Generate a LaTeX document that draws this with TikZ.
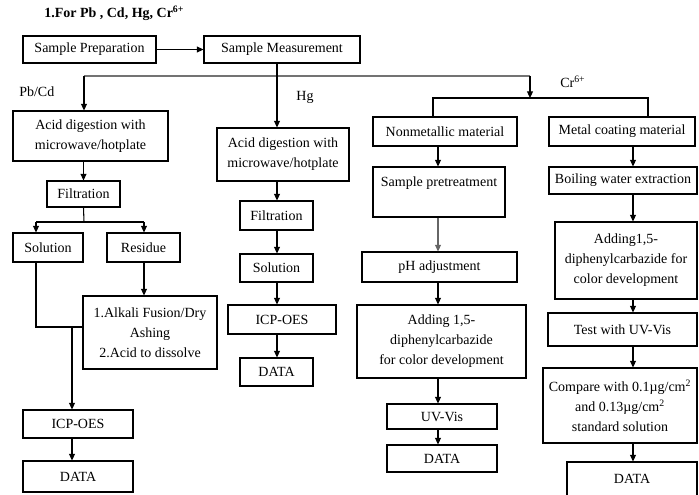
\documentclass[tikz,border=0pt]{standalone}
\usepackage{fontspec}
\setmainfont{Liberation Serif}
\usetikzlibrary{arrows.meta}
\newcommand\mybox[6]{\node[box, minimum width={(#4-#2)*0.75pt}, minimum height={(#5-#3)*0.75pt}] (#1) at ({(#2+#4)/2},{(#3+#5)/2}) {#6};}
\begin{document}
\begin{tikzpicture}[x=0.75pt,y=-0.75pt,
  box/.style={draw, line width=0.8pt, align=center, inner sep=0pt, font=\fontsize{10.5}{15}\selectfont},
  arr/.style={-{Triangle[length=5pt,width=4.5pt]}, line width=0.8pt},
  ln/.style={line width=0.8pt},
  lbl/.style={font=\fontsize{10.5}{15}\selectfont, inner sep=0pt}]
\useasboundingbox (0,0) rectangle (699,495);
% title and labels
\node[lbl, anchor=west, font=\bfseries\fontsize{10.5}{15}\selectfont] (title) at (44,13) {1.For Pb , Cd, Hg, Cr\textsuperscript{6+}};
\node[lbl, anchor=west] (lpb) at (19,92) {Pb/Cd};
\node[lbl] (lhg) at (305,97) {Hg};
\node[lbl, anchor=west] (lcr) at (560,82) {Cr\textsuperscript{6+}};
% boxes
\mybox{sp}{23}{36}{156}{63}{Sample Preparation}
\mybox{sm}{204}{36}{360}{63}{Sample Measurement}
\mybox{pba}{13}{111}{168}{161}{Acid digestion with\\microwave/hotplate}
\mybox{pbf}{47}{181}{120}{207}{Filtration}
\mybox{pbs}{13}{233}{83}{262}{Solution}
\mybox{pbr}{107}{233}{180}{262}{Residue}
\mybox{alk}{83}{296}{217}{369}{1.Alkali Fusion/Dry\\Ashing\\2.Acid to dissolve}
\mybox{pbi}{23}{410}{133}{438}{ICP-OES}
\mybox{pbd}{23}{461}{133}{492}{DATA}
\mybox{hga}{217}{128}{349}{181}{Acid digestion with\\microwave/hotplate}
\mybox{hgf}{240}{201}{313}{230}{Filtration}
\mybox{hgs}{240}{254}{313}{282}{Solution}
\mybox{hgi}{228}{305}{336}{334}{ICP-OES}
\mybox{hgd}{240}{358}{313}{386}{DATA}
\mybox{nm}{373}{117}{517}{146}{Nonmetallic material}
\mybox{spt}{373}{167}{505}{217}{Sample pretreatment\\\mbox{}}
\mybox{ph}{362}{252}{517}{282}{pH adjustment}
\mybox{ada}{357}{305}{526}{378}{Adding 1,5-\\diphenylcarbazide\\for color development}
\mybox{uv}{387}{404}{497}{429}{UV-Vis}
\mybox{crd}{387}{445}{497}{472}{DATA}
\mybox{mc}{549}{117}{695}{146}{Metal coating material}
\mybox{bw}{549}{167}{697}{194}{Boiling water extraction}
\mybox{adb}{555}{222}{697}{299}{Adding1,5-\\diphenylcarbazide for\\color development}
\mybox{tuv}{548}{313}{697}{346}{Test with UV-Vis}
\mybox{cmp}{543}{368}{697}{443}{Compare with 0.1µg/cm\textsuperscript{2}\\and 0.13µg/cm\textsuperscript{2}\\standard solution}
\mybox{crd2}{567}{462}{697}{496}{DATA}
% coordinates
\coordinate (hgx) at (277,0);
\coordinate (pbj) at (84,76);
\coordinate (crj) at (530,76);
\coordinate (crk) at (530,98);
\coordinate (nmj) at (433,98);
\coordinate (mcj) at (648,98);
\coordinate (pbb) at (84,222);
\coordinate (sj) at (36,222);
\coordinate (rj) at (144,222);
\coordinate (sk) at (36,327);
\coordinate (ik) at (72,327);
\coordinate (clx) at (438,0);
\coordinate (crx) at (633,0);
% top connectors
\draw[arr] (sp) -- (sm);
\draw[ln, black!55] (pbj) -- (crj);
\draw[arr] (sm.south -| hgx) -- (hga.north -| hgx);
\draw[arr] (pbj) -- (pba.north -| pbj);
\draw[arr] (crj) -- (crk);
\draw[ln] (nm.north -| nmj) -- (nmj) -- (mcj) -- (mc.north -| mcj);
% Pb/Cd
\draw[arr] (pba.south -| pbf) -- (pbf.north);
\draw[ln] (pbf.south) -- (pbb);
\draw[ln] (sj) -- (rj);
\draw[arr] (sj) -- (pbs.north -| sj);
\draw[arr] (rj) -- (pbr.north -| rj);
\draw[arr] (pbr.south -| rj) -- (alk.north -| rj);
\draw[ln] (pbs.south -| sj) -- (sk) -- (alk.west |- sk);
\draw[arr] (ik) -- (pbi.north -| ik);
\draw[arr] (pbi.south -| ik) -- (pbd.north -| ik);
% Hg
\draw[arr] (hga.south -| hgx) -- (hgf.north -| hgx);
\draw[arr] (hgf.south -| hgx) -- (hgs.north -| hgx);
\draw[arr] (hgs.south -| hgx) -- (hgi.north -| hgx);
\draw[arr] (hgi.south -| hgx) -- (hgd.north -| hgx);
% Cr left
\draw[arr] (nm.south -| clx) -- (spt.north -| clx);
\draw[arr, black!60] (spt.south -| clx) -- (ph.north -| clx);
\draw[arr] (ph.south -| clx) -- (ada.north -| clx);
\draw[arr] (ada.south -| clx) -- (uv.north -| clx);
\draw[arr] (uv.south -| clx) -- (crd.north -| clx);
% Cr right
\draw[arr] (mc.south -| crx) -- (bw.north -| crx);
\draw[arr] (bw.south -| crx) -- (adb.north -| crx);
\draw[arr] (adb.south -| crx) -- (tuv.north -| crx);
\draw[arr] (tuv.south -| crx) -- (cmp.north -| crx);
\draw[arr] (cmp.south -| crx) -- (crd2.north -| crx);
\end{tikzpicture}
\end{document}
